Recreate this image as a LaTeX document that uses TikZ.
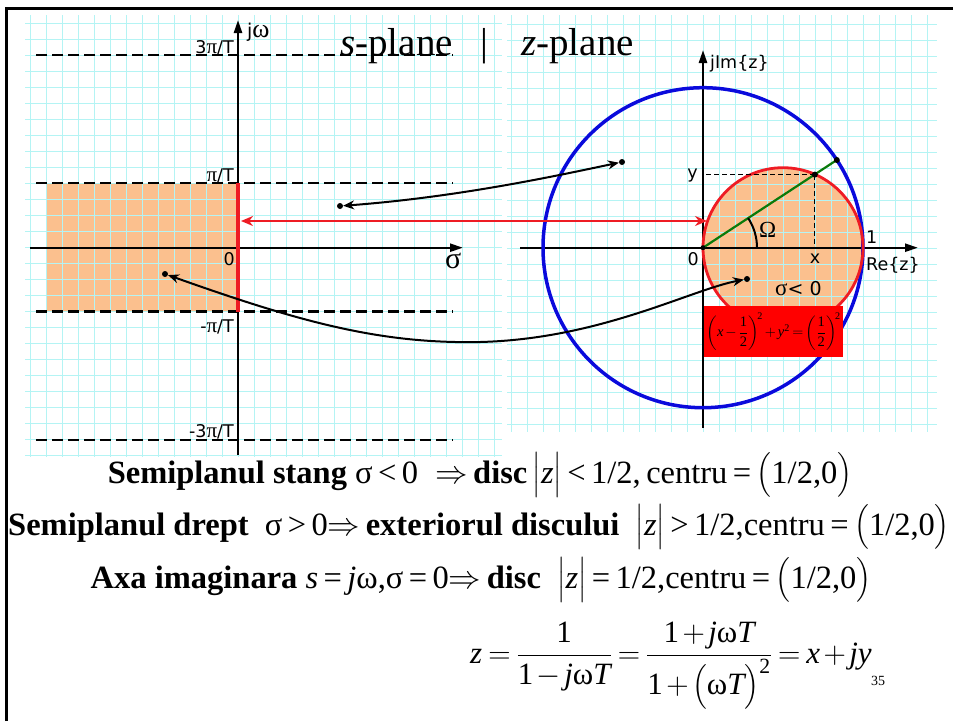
\RequirePackage{fix-cm}
\documentclass[tikz,border=0pt]{standalone}
\usepackage{amsmath}
\usepackage{fontspec}
\setmainfont{Liberation Serif}
\newfontfamily\versans{DejaVu Sans}
\usetikzlibrary{arrows.meta}

\definecolor{gridcyan}{HTML}{B4F4F4}
\definecolor{peach}{HTML}{FBC08E}
\definecolor{zred}{HTML}{EE1C24}
\definecolor{zblue}{HTML}{0A0ADC}
\definecolor{zgreen}{HTML}{0A7A0A}

\newcommand{\ti}[1]{\textit{#1}}
\newcommand{\tr}[1]{\textrm{#1}}
\newcommand{\gpi}{{\rmfamily\fontsize{21}{21}\selectfont π}}

\begin{document}
\begin{tikzpicture}[
  x=1pt, y=-1pt,
  gridline/.style={draw=gridcyan, line width=0.9pt},
  axis/.style={line width=2.4pt, -{Triangle[length=13pt,width=8pt]}},
  bound/.style={line width=2.8pt, dash pattern=on 11pt off 5pt},
  map/.style={line width=2pt, {Stealth[length=11pt,width=9pt]}-{Stealth[length=11pt,width=9pt]}},
  dotmark/.style={circle, fill=black, inner sep=0pt, minimum size=6pt},
  lbl/.style={font=\versans\fontsize{17.5}{17.5}\selectfont, inner sep=0pt},
  greek/.style={font=\rmfamily\fontsize{28}{28}\selectfont, inner sep=0pt},
  eqline/.style={font=\fontsize{32.5}{38}\selectfont, inner sep=0pt, anchor=base}
]
    \useasboundingbox (0,0) rectangle (953,721);

    % origins of both planes
    \coordinate (Os) at (238,247.7);
    \coordinate (Oz) at (703,247.7);

    % shaded regions (under the grid paper)
    \fill[peach] (47,183) rectangle (238,311.7);
    \fill[peach] (783,247.7) circle[radius=80pt];

    % grid paper, s-plane and z-plane
    \foreach \k in {0,...,29} \draw[gridline] ({30+16*\k},15) -- ({30+16*\k},457);
    \foreach \k in {1,...,28} \draw[gridline] (25,{7.3+16*\k}) -- (502,{7.3+16*\k});
    \foreach \k in {31,...,57} \draw[gridline] ({15+16*\k},15) -- ({15+16*\k},432);
    \foreach \k in {1,...,26} \draw[gridline] (507,{8+16*\k}) -- (937,{8+16*\k});

    % slide frame
    \draw[line width=3.3pt] (6.7,721) -- (6.7,8.3) -- (953,8.3);

    % s-plane strips
    \foreach \yb in {55,183,311.7,440} \draw[bound] (36,\yb) -- (453,\yb);
    \node[lbl, anchor=base east] (l3p)  at (234,53)  {3\gpi/T};
    \node[lbl, anchor=base east] (l1p)  at (234,181) {\gpi/T};
    \node[lbl, anchor=base east] (l1m)  at (234,332) {-\gpi/T};
    \node[lbl, anchor=base east] (l3m)  at (234,437) {-3\gpi/T};
    \node[lbl, anchor=base east] (l0s)  at (235,265) {0};

    % s-plane axes
    \draw[axis] (30,247.7) -- (463,247.7);
    \draw[axis] (238,455) -- (238,20);
    \node[lbl, font=\versans\fontsize{19}{19}\selectfont, anchor=base west] (jw) at (247,37)
      {j{\rmfamily\fontsize{26}{26}\selectfont ω}};
    \node[greek, font=\rmfamily\fontsize{30}{30}\selectfont, anchor=base west] (sig) at (445,268) {σ};
    \draw[zred, line width=4.5pt] (238,183) -- (238,311.7);

    % z-plane axes
    \draw[axis] (520,247.7) -- (918,247.7);
    \draw[axis] (703,428) -- (703,50);
    \node[lbl, anchor=base west] (imz) at (710,68)  {jIm\{z\}};
    \node[lbl, anchor=base west] (rez) at (866,270) {Re\{z\}};
    \node[lbl, anchor=base west] (one) at (866,243) {1};
    \node[lbl, anchor=base east] (l0z) at (699,265) {0};

    % unit circle and image disc
    \draw[zblue, line width=3.5pt] (Oz) circle[radius=160pt];
    \draw[zred, line width=2.8pt] (783,247.7) circle[radius=80pt];

    % point on the disc
    \coordinate (Pr) at (814.8,174.6);
    \coordinate (Pb) at (836.8,160);
    \draw[line width=0.9pt, dash pattern=on 5pt off 3pt] (Pr) -- (Pr -| Oz);
    \draw[line width=0.9pt, dash pattern=on 5pt off 3pt] (Pr) -- (Pr |- Oz);
    \draw[zgreen, line width=2.2pt] (Oz) -- (Pb);
    \draw[line width=2pt] ([xshift=54pt]Oz) arc[start angle=0, end angle=33.3, radius=54pt];
    \node[dotmark] (dPr) at (Pr) {};
    \node[dotmark] (dPb) at (Pb) {};
    \node[dotmark, minimum size=5pt] (dOz) at (Oz) {};
    \node[lbl, anchor=base east] (ly) at (698,178) {y};
    \node[lbl, anchor=base] (lx) at (815,263) {x};
    \node[greek, font=\rmfamily\fontsize{23}{23}\selectfont, anchor=base west] (om) at (759,237) {Ω};
    \node[lbl, font=\versans\fontsize{19}{19}\selectfont, anchor=base west] (sneg) at (775,295)
      {{\rmfamily\fontsize{23}{23}\selectfont σ}< 0};

    % circle equation
    \node[fill=red, minimum width=139pt, minimum height=51pt, inner sep=0pt,
          font=\fontsize{14.5}{16}\selectfont] (circeq) at (773.5,331.5)
      {\medmuskip=2.5mu\thickmuskip=3mu
       $\left(\ti{x}-\dfrac{\tr{1}}{\tr{2}}\right)^{\!\tr{2}}+\ti{y}^{\tr{2}}=\left(\dfrac{\tr{1}}{\tr{2}}\right)^{\!\tr{2}}$};

    % mappings s -> z
    \node[dotmark] (sA) at (340,206) {};
    \node[dotmark] (zA) at (622,162) {};
    \node[dotmark] (sB) at (165,274) {};
    \node[dotmark] (zB) at (747,279) {};
    \draw[map] (sA) .. controls (460,197) and (560,175) .. (zA);
    \draw[map] (sB) .. controls (300,322) and (380,344) .. (480,342)
                    .. controls (600,339) and (690,290) .. (zB);
    \coordinate (redL) at (241,221);
    \coordinate (redR) at (707,221);
    \draw[zred, line width=2.2pt, {Stealth[length=12pt,width=10pt]}-{Stealth[length=12pt,width=10pt]}] (redL) -- (redR);

    % title
    \node[font=\fontsize{39}{39}\selectfont, anchor=base west, inner sep=0pt] (tits) at (340,55) {\ti{s}-plane};
    \node[font=\fontsize{39}{39}\selectfont, anchor=base, inner sep=0pt] (titbar) at (484,55) {|};
    \node[font=\fontsize{39}{39}\selectfont, anchor=base west, inner sep=0pt] (titz) at (521,55) {\ti{z}-plane};

    % conclusions
    \node[eqline] (row1) at (480,483)
      {\textbf{Semiplanul stang} σ\,<\,0 \;$\Rightarrow$\,\textbf{disc}\,$\bigl|$\ti{z}$\bigr|$\,<\,1/2,\,centru\,=\,$\bigl($1/2,0$\bigr)$};
    \node[eqline] (row2) at (479,535)
      {\textbf{Semiplanul drept}\ \ σ\,>\,0$\Rightarrow$\,\textbf{exteriorul discului}\ \ $\bigl|$\ti{z}$\bigr|$\,>\,1/2,centru\,=\,$\bigl($1/2,0$\bigr)$};
    \node[eqline] (row3) at (481,588)
      {\textbf{Axa imaginara} \ti{s}\,=\,\ti{j}ω,σ\,=\,0$\Rightarrow$\,\textbf{disc}\ \ $\bigl|$\ti{z}$\bigr|$\,=\,1/2,centru\,=\,$\bigl($1/2,0$\bigr)$};
    \node[eqline, font=\fontsize{31}{37}\selectfont, anchor=base west] (row4) at (470,663)
      {\medmuskip=2mu\thickmuskip=3.5mu
       $\ti{z}=\dfrac{\tr{1}}{\tr{1}-\ti{j}\tr{ω}\ti{T}}=\dfrac{\tr{1}+\ti{j}\tr{ω}\ti{T}}{\tr{1}+\bigl(\tr{ω}\ti{T}\bigr)^{\tr{2}}}=\ti{x}+\ti{jy}$};
    \node[font=\fontsize{14}{14}\selectfont, anchor=base, inner sep=0pt] (pgno) at (878,685) {35};
\end{tikzpicture}
\end{document}
